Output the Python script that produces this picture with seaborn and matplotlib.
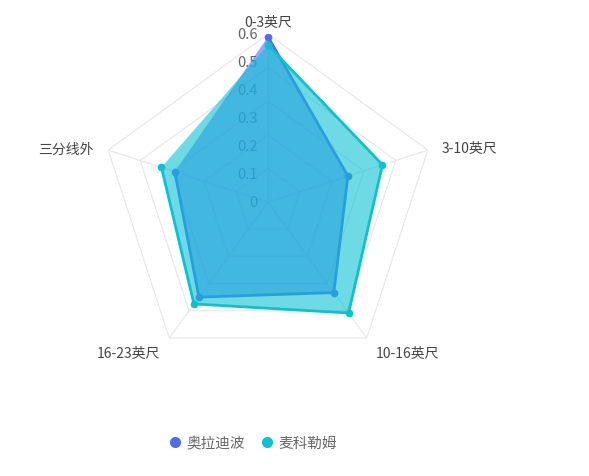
import numpy as np
import pandas as pd
import matplotlib
matplotlib.use("Agg")
import matplotlib.pyplot as plt
import matplotlib.transforms as mtransforms
from matplotlib.lines import Line2D
import seaborn as sns

# shooting distribution by distance
categories = ["0-3英尺", "3-10英尺", "10-16英尺", "16-23英尺", "三分线外"]
oladipo = [0.59, 0.30, 0.40, 0.42, 0.35]
mccollum = [0.56, 0.43, 0.49, 0.45, 0.40]
player_names = ["奥拉迪波", "麦科勒姆"]
radial_ticks = [0, 0.1, 0.2, 0.3, 0.4, 0.5, 0.6]
r_max = 0.6

colors = ["#4F6CF0", "#0CC2D2"]

sns.set_theme(style="white")
plt.rcParams["font.family"] = ["Noto Sans CJK SC", "DejaVu Sans"]

fig = plt.figure(figsize=(5.89, 4.77), dpi=100)
ax = fig.add_axes([0.1698, 0.2222, 0.5704, 0.7044], projection="polar")
ax.set_theta_zero_location("N")
ax.set_theta_direction(-1)

n = len(categories)
angles = np.arange(n) * 2 * np.pi / n
closed = np.append(angles, angles[0])

# pentagon grid (5 split rings) and spokes
for k in range(1, 6):
    rr = r_max * k / 5
    ax.plot(closed, [rr] * (n + 1), color="#E6E6E6", lw=0.8, zorder=1)
for a in angles:
    ax.plot([a, a], [0, r_max], color="#E6E6E6", lw=0.8, zorder=1)

# radial labels sitting left of the top spoke
off = mtransforms.offset_copy(ax.transData, fig=fig, x=-10, y=0, units="dots")
for t in radial_ticks:
    ax.text(0, t, f"{t:g}", transform=off, ha="right", va="center",
            fontsize=10.5, color="#666666", zorder=2)

# series, each one fully above the previous one
for i, (vals, name, c) in enumerate(zip([oladipo, mccollum], player_names, colors)):
    df = pd.DataFrame({"theta": closed, "r": np.append(vals, vals[0])})
    ax.fill(df["theta"], df["r"], color=c, alpha=0.6, lw=0, zorder=3 + 2 * i)
    sns.lineplot(data=df, x="theta", y="r", sort=False, ax=ax, color=c,
                 lw=2, marker="o", markersize=5.5, markeredgewidth=0,
                 zorder=4 + 2 * i)
ax.set_ylim(0, r_max)
ax.axis("off")

# category names
label_r = r_max * 183 / 168
lab_off = mtransforms.offset_copy(ax.transData, fig=fig, x=0, y=-3, units="dots")
for a, lab in zip(angles, categories):
    s = np.sin(a)
    if abs(s) < 0.1:
        ha = "center"
    elif s > 0:
        ha = "left"
    else:
        ha = "right"
    ax.text(a, label_r, lab, transform=lab_off, ha=ha, va="center",
            fontsize=10, color="#444444", clip_on=False)

handles = [Line2D([0], [0], marker="o", ls="", color=c, markersize=7)
           for c in colors]
leg = fig.legend(handles, player_names, loc="center",
                 bbox_to_anchor=(252 / 589, 1 - 444 / 477), ncol=2,
                 frameon=False, fontsize=10.5, handletextpad=0.3,
                 columnspacing=1.0, handlelength=1.0)
for txt in leg.get_texts():
    txt.set_color("#666666")

fig.savefig("out.png", dpi=100)
